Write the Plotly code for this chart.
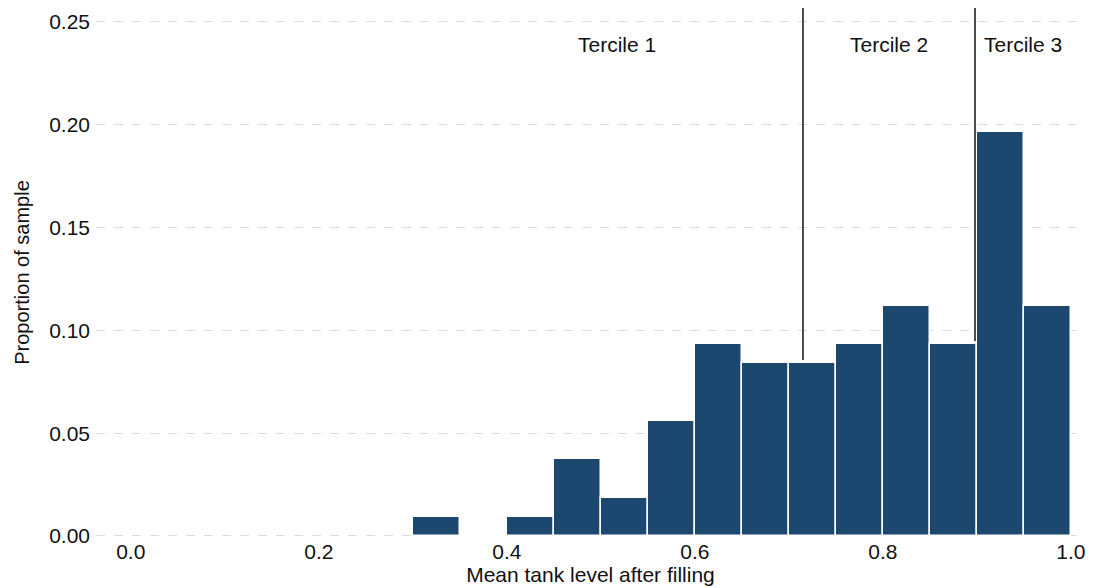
import plotly.graph_objects as go

bin_left = [0.30, 0.35, 0.40, 0.45, 0.50, 0.55, 0.60, 0.65, 0.70, 0.75, 0.80, 0.85, 0.90, 0.95]
proportion = [0.0093, 0.0, 0.0093, 0.0374, 0.0187, 0.0561, 0.0935, 0.0841, 0.0841, 0.0935, 0.1121, 0.0935, 0.1963, 0.1121]
bin_width = 0.05

tercile_cuts = [0.715, 0.898]
tercile_line_bottom = [0.0856, 0.0948]
tercile_labels = ["Tercile 1", "Tercile 2", "Tercile 3"]
tercile_label_x = [0.517, 0.806, 0.949]
tercile_label_y = 0.239

x_ticks = [0.0, 0.2, 0.4, 0.6, 0.8, 1.0]
y_ticks = [0.0, 0.05, 0.10, 0.15, 0.20, 0.25]

centers = [b + bin_width / 2 for b in bin_left]

FONT = "Liberation Sans, Arial, sans-serif"

fig = go.Figure()
fig.add_trace(go.Bar(
    x=centers, y=proportion, width=[bin_width] * len(centers),
    marker=dict(color="#1c476f", line=dict(color="white", width=1.5)),
    showlegend=False, hoverinfo="x+y",
))

y_top = 0.2568
for xc, yb in zip(tercile_cuts, tercile_line_bottom):
    fig.add_shape(type="line", x0=xc, x1=xc, y0=yb, y1=y_top, xref="x", yref="y",
                  line=dict(color="#3a3a3a", width=1.8), layer="above")

for lab, lx in zip(tercile_labels, tercile_label_x):
    fig.add_annotation(x=lx, y=tercile_label_y, text=lab, showarrow=False,
                       xref="x", yref="y", font=dict(size=21, color="#111111", family=FONT))

fig.update_layout(
    width=1095, height=588,
    margin=dict(l=96, r=10, t=8, b=51),
    plot_bgcolor="white", paper_bgcolor="white",
    font=dict(family=FONT, color="#111111"),
    bargap=0,
    xaxis=dict(range=[-0.037, 1.015], tickvals=x_ticks,
               ticktext=[f"{v:.1f}" for v in x_ticks],
               showgrid=False, zeroline=False, showline=False, ticks="",
               tickfont=dict(size=21), automargin=False,
               title=dict(text="Mean tank level after filling", font=dict(size=21), standoff=4)),
    yaxis=dict(range=[-0.0005, y_top], tickvals=y_ticks,
               ticktext=[f"{v:.2f}" for v in y_ticks],
               showgrid=True, gridcolor="#dddddd", griddash="dash", gridwidth=1,
               zeroline=False, showline=False, ticks="", ticklabelstandoff=5,
               tickfont=dict(size=21), automargin=False,
               title=dict(text="Proportion of sample", font=dict(size=20), standoff=14)),
)

fig.write_html("out.html")
